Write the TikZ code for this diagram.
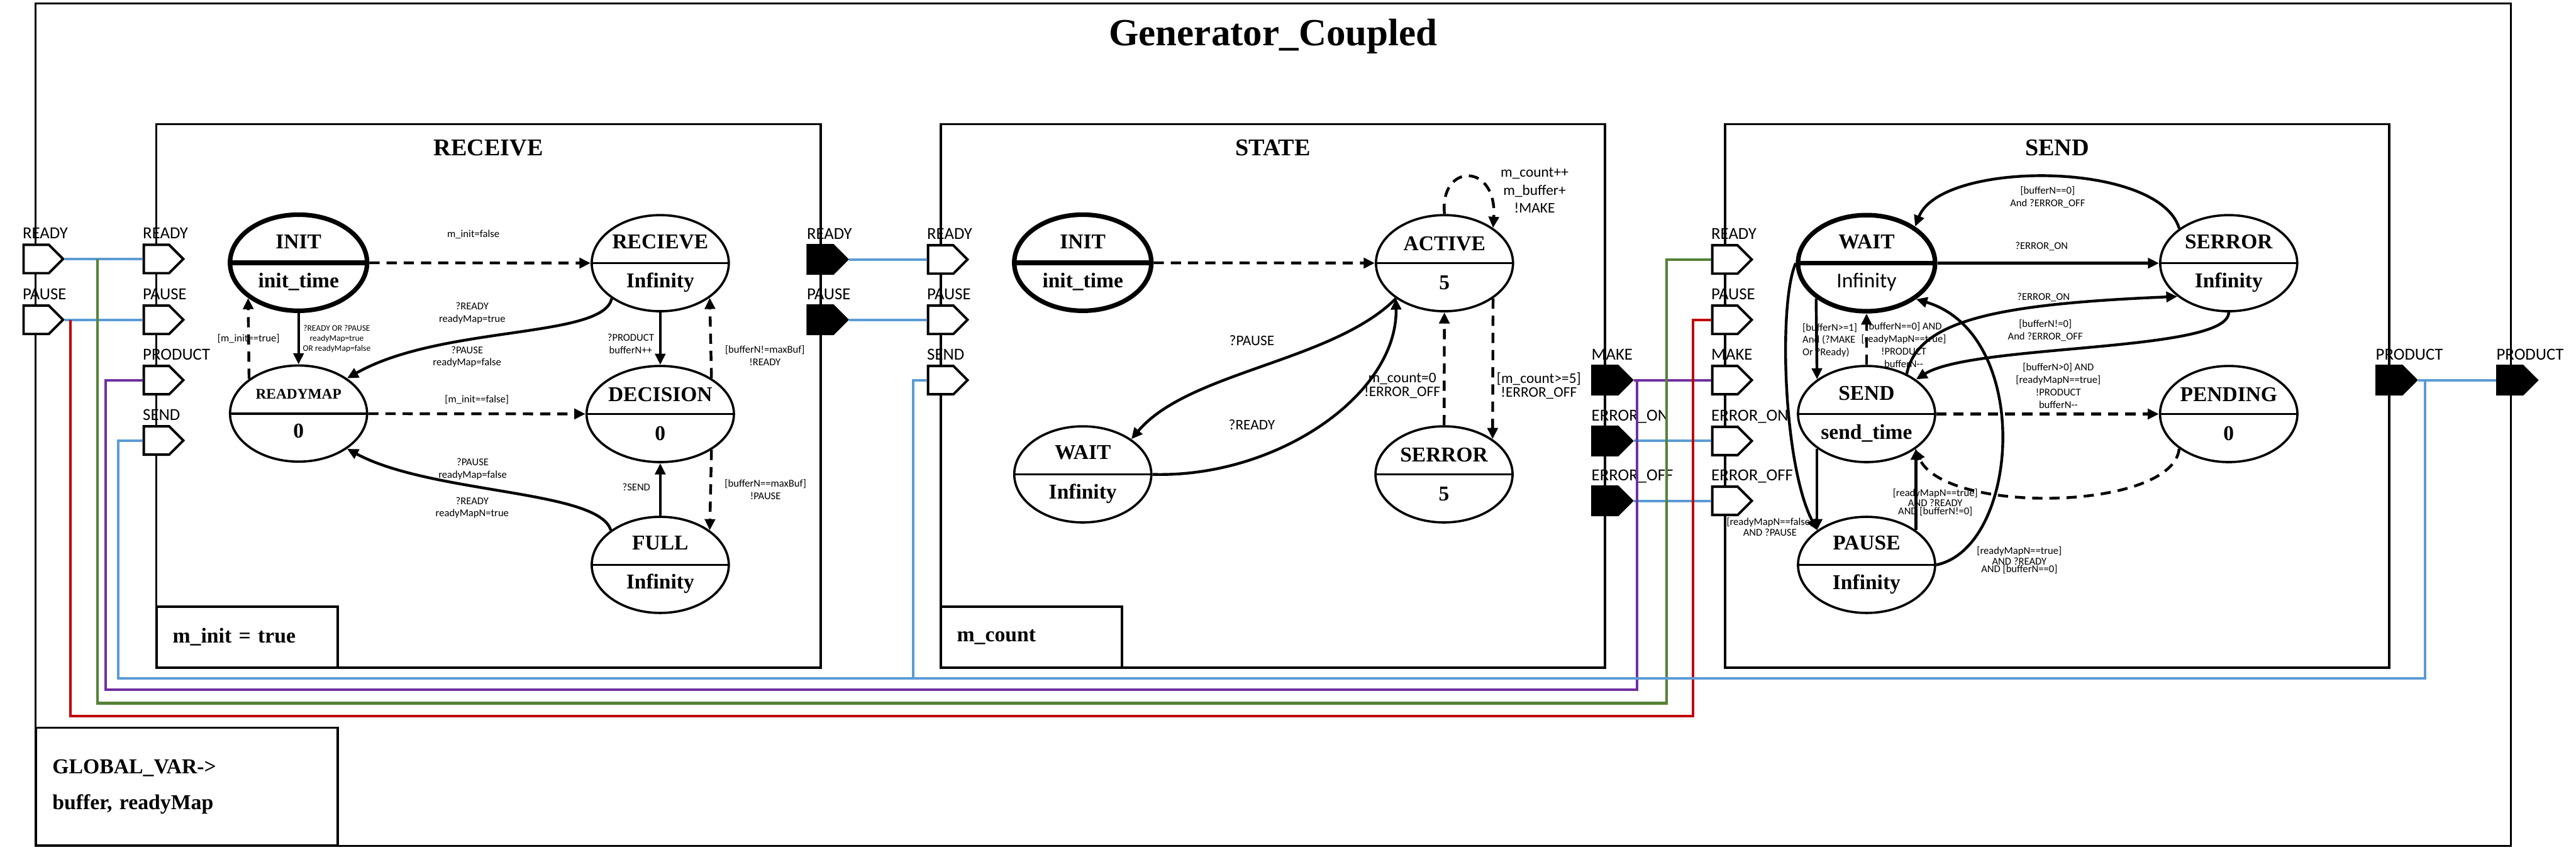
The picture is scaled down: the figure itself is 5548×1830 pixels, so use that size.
\documentclass[tikz,border=0pt]{standalone}
\usepackage{fontspec}
\setmainfont{Liberation Serif}
\newfontfamily\lblfont{Carlito}
\usetikzlibrary{arrows.meta, positioning, shapes.geometric, shapes.symbols}
\definecolor{wireblue}{RGB}{91,155,213}
\definecolor{wirepurple}{RGB}{112,48,160}
\definecolor{wiregreen}{RGB}{84,130,53}
\definecolor{wirered}{RGB}{192,0,0}
\newcommand\stfont{\fontsize{12.9}{23.9}\selectfont\bfseries}
\newcommand\lblsize{\lblfont\fontsize{6.4}{7.6}\selectfont}

\begin{document}
\begin{tikzpicture}[x=0.01cm, y=-0.01cm,
  every node/.style={inner sep=0pt},
  frame/.style={draw, line width=1.4pt},
  blk/.style={frame, minimum width=14.3cm, minimum height=11.7cm},
  maintitle/.style={font=\fontsize{23.5}{28}\selectfont\bfseries},
  btitle/.style={font=\fontsize{14.7}{17}\selectfont\bfseries},
  varbox/.style={frame, minimum width=3.9cm, minimum height=1.31cm, text width=3.2cm,
    inner xsep=0.35cm, align=left, font=\fontsize{13}{22}\selectfont\bfseries},
  st/.style={ellipse, draw, line width=1.4pt, minimum width=2.95cm, minimum height=2.07cm,
    align=center, font=\stfont,
    path picture={\draw[line width=1.4pt] (path picture bounding box.west) -- (path picture bounding box.east);}},
  initst/.style={st, line width=2.8pt,
    path picture={\draw[line width=2.8pt] (path picture bounding box.west) -- (path picture bounding box.east);}},
  inport/.style={signal, signal to=east, signal from=nowhere, signal pointer angle=90, draw,
    line width=1.5pt, fill=white, minimum width=0.85cm, minimum height=0.61cm},
  outport/.style={inport, fill=black},
  plbl/.style={anchor=base west, font=\lblfont\fontsize{10.3}{12}\selectfont},
  tr/.style={line width=1.7pt, -{Triangle[length=0.24cm, width=0.22cm]}},
  dtr/.style={tr, dash pattern=on 0.22cm off 0.15cm},
  lbl/.style={font=\lblsize, align=center, inner sep=1pt},
  lblxs/.style={lbl, font=\lblfont\fontsize{5.2}{6.2}\selectfont},
  lblst/.style={lbl, font=\lblfont\fontsize{9}{8.6}\selectfont},
  lbltight/.style={lbl, font=\lblfont\fontsize{6.4}{4.8}\selectfont},
  wire/.style={line width=1.6pt}
]
\useasboundingbox (0,0) rectangle (5548,1830);

% coupled model frame
\node[frame, minimum width=53.28cm, minimum height=18.14cm] (gen) at (2742,915) {};
\node[maintitle] (gen-t) at (2742,78) {Generator\_Coupled};

% atomic blocks
\node[blk] (recv) at (1052,853) {};
\node[blk] (stat) at (2741.5,853) {};
\node[blk] (send) at (4430.5,853) {};
\node[btitle, below=0.35cm of recv.north] (recv-t) {RECEIVE};
\node[btitle, below=0.35cm of stat.north] (stat-t) {STATE};
\node[btitle, below=0.35cm of send.north] (send-t) {SEND};
\node[varbox] (recv-var) at (532,1372.5) {m\_init = true};
\node[varbox] (stat-var) at (2221,1372.5) {m\_count};
\node[varbox, minimum width=6.49cm, minimum height=2.54cm, text width=5.79cm] (glob) at (402.5,1695) {GLOBAL\_VAR->\\buffer, readyMap};

% ports
\node[inport] (gen-ready) at (78,558) {};
\node[plbl] (gen-ready-l) at ([yshift=0.435cm]gen-ready.west) {READY};
\node[inport] (gen-pause) at (78,689) {};
\node[plbl] (gen-pause-l) at ([yshift=0.435cm]gen-pause.west) {PAUSE};
\node[outport] (gen-product) at (5406,819) {};
\node[plbl] (gen-product-l) at ([yshift=0.435cm]gen-product.west) {PRODUCT};

\node[inport] (recv-ready) at (337,558) {};
\node[plbl] (recv-ready-l) at ([yshift=0.435cm]recv-ready.west) {READY};
\node[inport] (recv-pause) at (337,689) {};
\node[plbl] (recv-pause-l) at ([yshift=0.435cm]recv-pause.west) {PAUSE};
\node[inport] (recv-product) at (337,819) {};
\node[plbl] (recv-product-l) at ([yshift=0.435cm]recv-product.west) {PRODUCT};
\node[inport] (recv-send) at (337,949) {};
\node[plbl] (recv-send-l) at ([yshift=0.435cm]recv-send.west) {SEND};
\node[outport] (recv-oready) at (1767,559) {};
\node[plbl] (recv-oready-l) at ([yshift=0.435cm]recv-oready.west) {READY};
\node[outport] (recv-opause) at (1767,689) {};
\node[plbl] (recv-opause-l) at ([yshift=0.435cm]recv-opause.west) {PAUSE};

\node[inport] (stat-ready) at (2026,559) {};
\node[plbl] (stat-ready-l) at ([yshift=0.435cm]stat-ready.west) {READY};
\node[inport] (stat-pause) at (2026,689) {};
\node[plbl] (stat-pause-l) at ([yshift=0.435cm]stat-pause.west) {PAUSE};
\node[inport] (stat-send) at (2026,819) {};
\node[plbl] (stat-send-l) at ([yshift=0.435cm]stat-send.west) {SEND};
\node[outport] (stat-make) at (3457,819) {};
\node[plbl] (stat-make-l) at ([yshift=0.435cm]stat-make.west) {MAKE};
\node[outport] (stat-erron) at (3457,950) {};
\node[plbl] (stat-erron-l) at ([yshift=0.435cm]stat-erron.west) {ERROR\_ON};
\node[outport] (stat-erroff) at (3457,1079) {};
\node[plbl] (stat-erroff-l) at ([yshift=0.435cm]stat-erroff.west) {ERROR\_OFF};

\node[inport] (send-ready) at (3715,559) {};
\node[plbl] (send-ready-l) at ([yshift=0.435cm]send-ready.west) {READY};
\node[inport] (send-pause) at (3715,689) {};
\node[plbl] (send-pause-l) at ([yshift=0.435cm]send-pause.west) {PAUSE};
\node[inport] (send-make) at (3715,819) {};
\node[plbl] (send-make-l) at ([yshift=0.435cm]send-make.west) {MAKE};
\node[inport] (send-erron) at (3715,950) {};
\node[plbl] (send-erron-l) at ([yshift=0.435cm]send-erron.west) {ERROR\_ON};
\node[inport] (send-erroff) at (3715,1079) {};
\node[plbl] (send-erroff-l) at ([yshift=0.435cm]send-erroff.west) {ERROR\_OFF};
\node[outport] (send-product) at (5146,819) {};
\node[plbl] (send-product-l) at ([yshift=0.435cm]send-product.west) {PRODUCT};

% couplings
\coordinate (gL) at (210,1515); \coordinate (gR) at (3589,1515);
\coordinate (rL) at (152,1543); \coordinate (rR) at (3646,1543);
\coordinate (pL) at (227,1486); \coordinate (pR) at (3526,1486);
\coordinate (bL) at (255,1462); \coordinate (bR) at (5223,1462);
\coordinate (bM) at (1967,1462);
\draw[wire, wireblue] (gen-ready.east) -- (recv-ready.west);
\draw[wire, wireblue] (gen-pause.east) -- (recv-pause.west);
\draw[wire, wireblue] (recv-oready.east) -- (stat-ready.west);
\draw[wire, wireblue] (recv-opause.east) -- (stat-pause.west);
\draw[wire, wirepurple] (stat-make.east) -- (send-make.west);
\draw[wire, wireblue] (stat-erron.east) -- (send-erron.west);
\draw[wire, wireblue] (stat-erroff.east) -- (send-erroff.west);
\draw[wire, wireblue] (send-product.east) -- (gen-product.west);
\draw[wire, wiregreen] (gen-ready.east -| gL) -- (gL) -- (gR) |- (send-ready.west);
\draw[wire, wirered] (gen-pause.east -| rL) -- (rL) -- (rR) |- (send-pause.west);
\draw[wire, wirepurple] (stat-make.east -| pR) -- (pR) -- (pL) |- (recv-product.west);
\draw[wire, wireblue] (send-product.east -| bR) -- (bR) -- (bL) |- (recv-send.west);
\draw[wire, wireblue] (stat-send.west) -| (bM);

% RECEIVE states
\node[initst] (rinit) at (643,566) {INIT\\init\_time};
\node[st] (rmap) at (643,891) {{\fontsize{9}{23.9}\selectfont READYMAP}\\0};
\node[st] (rrecv) at (1422,567) {RECIEVE\\Infinity};
\node[st] (rdec) at (1422,892) {DECISION\\0};
\node[st] (rfull) at (1422,1217) {FULL\\Infinity};
\draw[dtr] (rinit) -- node[lbl, above=0.45cm, pos=0.47] (lb-r1) {m\_init=false} (rrecv);
\draw[tr] (rinit) -- node[lblxs, right=0.03cm] (lb-r2) {?READY OR ?PAUSE\\readyMap=true\\OR readyMap=false} (rmap);
\draw[dtr] (rmap.145) -- node[lbl] (lb-r3) {[m\_init==true]} (rinit.215);
\draw[tr] (rrecv.216) .. controls (1300,730) and (950,700) .. (rmap.36);
\node[lbl] (lb-r4) at (1017,675) {?READY\\readyMap=true};
\node[lbl] (lb-r5) at (1006,769) {?PAUSE\\readyMap=false};
\draw[tr] (rrecv) -- node[lbl, left=0.07cm, pos=0.6] (lb-r6) {?PRODUCT\\bufferN++} (rdec);
\draw[dtr] (rdec.35) -- node[lbl, right=0.24cm, pos=0.28] (lb-r7) {[bufferN!=maxBuf]\\!READY} (rrecv.325);
\draw[dtr] (rmap) -- node[lbl, above=0.15cm] (lb-r8) {[m\_init==false]} (rdec);
\draw[tr] (rfull.145) .. controls (1290,1055) and (930,1065) .. (rmap.324);
\node[lbl] (lb-r9) at (1018,1011) {?PAUSE\\readyMap=false};
\node[lbl] (lb-r10) at (1017,1094) {?READY\\readyMapN=true};
\draw[tr] (rfull) -- node[lbl, left=0.15cm, pos=0.54] (lb-r11) {?SEND} (rdec);
\draw[dtr] (rdec.325) -- node[lbl, right=0.24cm, pos=0.49] (lb-r12) {[bufferN==maxBuf]\\!PAUSE} (rfull.35);

% STATE states
\node[initst] (sinit) at (2332,566) {INIT\\init\_time};
\node[st] (sact) at (3111,567) {ACTIVE\\5};
\node[st] (swait) at (2332,1022) {WAIT\\Infinity};
\node[st] (serr) at (3110,1022) {SERROR\\5};
\draw[dtr] (sinit) -- (sact);
\draw[dtr] (sact.north) .. controls (3100,350) and (3225,350) .. (sact.36);
\node[lblst, font=\lblfont\fontsize{9}{10.8}\selectfont] (lb-s1) at (3305,410) {m\_count++\\m\_buffer+\\!MAKE};
\draw[tr] (sact.216) .. controls (2870,780) and (2560,800) .. (swait.36);
\node[lblst] (lb-s2) at (2696,734) {?PAUSE};
\draw[tr] (swait.east) .. controls (2750,1030) and (3010,850) .. (sact.216);
\node[lblst] (lb-s3) at (2696,915) {?READY};
\draw[dtr] (serr) -- node[lblst, left=0.02cm, pos=0.35] (lb-s4) {m\_count=0\\!ERROR\_OFF} (sact);
\draw[dtr] (sact.324) -- node[lblst, right=0.02cm, pos=0.62] (lb-s5) {[m\_count>=5]\\!ERROR\_OFF} (serr.36);

% SEND states
\node[initst] (dwait) at (4020,567) {WAIT\\{\lblfont\mdseries Infinity}};
\node[st] (dserr) at (4800,567) {SERROR\\Infinity};
\node[st] (dsend) at (4020,892) {SEND\\send\_time};
\node[st] (dpend) at (4800,892) {PENDING\\0};
\node[st] (dpause) at (4020,1217) {PAUSE\\Infinity};
\draw[tr] (dwait) -- node[lbl, above=0.2cm, pos=0.47] (lb-d2) {?ERROR\_ON} (dserr);
\draw[tr] (dserr.145) .. controls (4650,345) and (4180,345) .. (dwait.37);
\node[lbl] (lb-d1) at (4410,425) {[bufferN==0]\\And ?ERROR\_OFF};
\draw[tr] (dsend.45) .. controls (4130,690) and (4300,655) .. (dserr.213);
\node[lbl] (lb-d3) at (4401,640) {?ERROR\_ON};
\draw[tr] (dserr.south) .. controls (4800,760) and (4250,740) .. (dsend.35);
\node[lbl] (lb-d4) at (4405,712) {[bufferN!=0]\\And ?ERROR\_OFF};
\draw[tr] (dwait.215) -- (dsend.145);
\node[lbl, anchor=west, align=left] (lb-d5) at (3878,733) {[bufferN>=1]\\And (?MAKE\\Or ?Ready)};
\draw[dtr] (dsend) -- (dwait);
\node[lbl] (lb-d6) at (4100,743) {[bufferN==0] AND\\{[readyMapN==true]}\\!PRODUCT\\bufferN-{}-};
\draw[dtr] (dsend) -- (dpend);
\node[lbl] (lb-d7) at (4433,831) {[bufferN>0] AND\\{[readyMapN==true]}\\!PRODUCT\\bufferN-{}-};
\draw[dtr] (dpend.215) .. controls (4680,1100) and (4190,1110) .. (dsend.324);
\draw[tr] (dsend.215) -- (dpause.145);
\draw[tr] (dwait.west) .. controls (3830,650) and (3840,1000) .. (dpause.145);
\node[lbltight] (lb-d8) at (3812,1135) {[readyMapN==false]\\AND ?PAUSE};
\draw[tr] (dpause.35) -- (dsend.325);
\node[lbltight] (lb-d9) at (4168,1082) {[readyMapN==true]\\AND ?READY\\AND [bufferN!=0]};
\draw[tr] (dpause.east) .. controls (4350,1180) and (4380,720) .. (dwait.324);
\node[lbltight] (lb-d10) at (4349,1207) {[readyMapN==true]\\AND ?READY\\AND [bufferN==0]};
\end{tikzpicture}
\end{document}
